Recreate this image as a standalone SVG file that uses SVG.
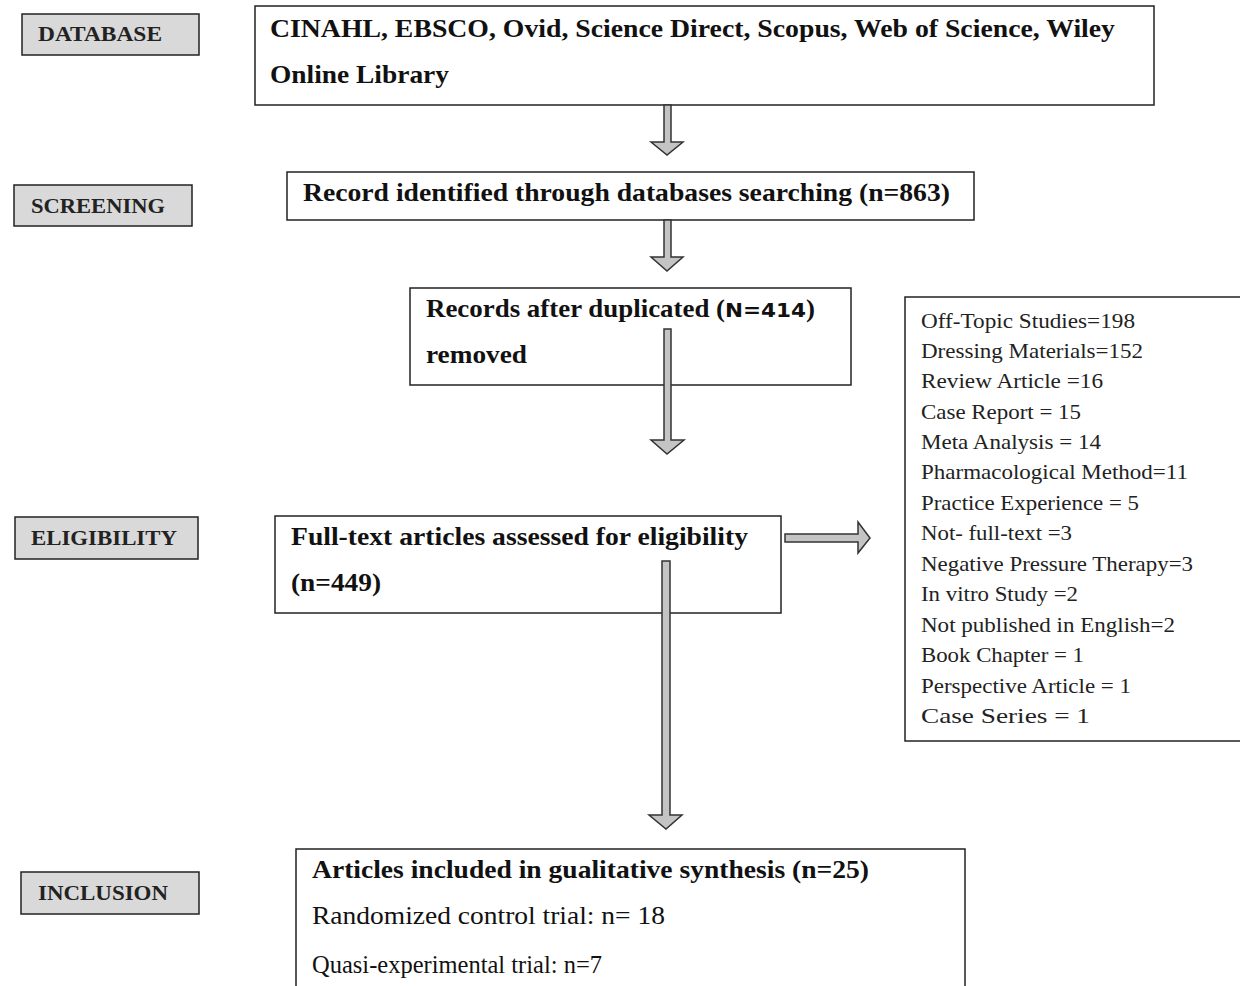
<svg xmlns="http://www.w3.org/2000/svg" width="1240" height="986" viewBox="0 0 1240 986">
<style>
.lab{fill:#d9d9d9;stroke:#222;stroke-width:1.5}
.box{fill:#fff;stroke:#222;stroke-width:1.5}
.lt{font-family:"Liberation Serif","Times New Roman",serif;font-weight:bold;font-size:20px;fill:#222}
.bt{font-family:"Liberation Serif","Times New Roman",serif;font-weight:bold;font-size:25px;fill:#111}
.rt{font-family:"Liberation Serif","Times New Roman",serif;font-size:25px;fill:#111}
.st{font-family:"Liberation Serif","Times New Roman",serif;font-size:21px;fill:#222}
.arr{fill:#c4c4c4;stroke:#333;stroke-width:1.5;stroke-linejoin:miter}
</style>
<rect width="1240" height="986" fill="#fff"/>

<g id="lab-database"><rect class="lab" x="22" y="14" width="177" height="41"/><text class="lt" x="38" y="41" textLength="124" lengthAdjust="spacingAndGlyphs">DATABASE</text></g>
<g id="lab-screening"><rect class="lab" x="14" y="185" width="178" height="41"/><text class="lt" x="31" y="213" textLength="134" lengthAdjust="spacingAndGlyphs">SCREENING</text></g>
<g id="lab-eligibility"><rect class="lab" x="15" y="517" width="183" height="42"/><text class="lt" x="31" y="545" textLength="146" lengthAdjust="spacingAndGlyphs">ELIGIBILITY</text></g>
<g id="lab-inclusion"><rect class="lab" x="21" y="872" width="178" height="42"/><text class="lt" x="38" y="900" textLength="130" lengthAdjust="spacingAndGlyphs">INCLUSION</text></g>

<g id="node-databases"><rect class="box" x="255" y="6" width="899" height="99"/>
<text class="bt" x="270" y="37" textLength="845" lengthAdjust="spacingAndGlyphs">CINAHL, EBSCO, Ovid, Science Direct, Scopus, Web of Science, Wiley</text>
<text class="bt" x="270" y="83" textLength="179" lengthAdjust="spacingAndGlyphs">Online Library</text></g>

<g id="node-identified"><rect class="box" x="287" y="172" width="687" height="48"/>
<text class="bt" x="303" y="201" textLength="647" lengthAdjust="spacingAndGlyphs">Record identified through databases searching (n=863)</text></g>

<g id="node-duplicates"><rect class="box" x="410" y="288" width="441" height="97"/>
<text class="bt" x="426" y="317" textLength="389" lengthAdjust="spacingAndGlyphs">Records after duplicated (<tspan font-family="'DejaVu Sans',sans-serif" font-size="20">N=414</tspan>)</text>
<text class="bt" x="426" y="363" textLength="101" lengthAdjust="spacingAndGlyphs">removed</text></g>

<g id="node-fulltext"><rect class="box" x="275" y="516" width="506" height="97"/>
<text class="bt" x="291" y="545" textLength="457" lengthAdjust="spacingAndGlyphs">Full-text articles assessed for eligibility</text>
<text class="bt" x="291" y="591" textLength="90" lengthAdjust="spacingAndGlyphs">(n=449)</text></g>

<g id="node-excluded"><rect class="box" x="905" y="297" width="345" height="444"/>
<text class="st" x="921" y="328" textLength="214" lengthAdjust="spacingAndGlyphs">Off-Topic Studies=198</text>
<text class="st" x="921" y="358" textLength="222" lengthAdjust="spacingAndGlyphs">Dressing Materials=152</text>
<text class="st" x="921" y="388" textLength="182" lengthAdjust="spacingAndGlyphs">Review Article =16</text>
<text class="st" x="921" y="419" textLength="160" lengthAdjust="spacingAndGlyphs">Case Report = 15</text>
<text class="st" x="921" y="449" textLength="180" lengthAdjust="spacingAndGlyphs">Meta Analysis = 14</text>
<text class="st" x="921" y="479" textLength="267" lengthAdjust="spacingAndGlyphs">Pharmacological Method=11</text>
<text class="st" x="921" y="510" textLength="218" lengthAdjust="spacingAndGlyphs">Practice Experience = 5</text>
<text class="st" x="921" y="540" textLength="151" lengthAdjust="spacingAndGlyphs">Not- full-text =3</text>
<text class="st" x="921" y="571" textLength="272" lengthAdjust="spacingAndGlyphs">Negative Pressure Therapy=3</text>
<text class="st" x="921" y="601" textLength="157" lengthAdjust="spacingAndGlyphs">In vitro Study =2</text>
<text class="st" x="921" y="632" textLength="254" lengthAdjust="spacingAndGlyphs">Not published in English=2</text>
<text class="st" x="921" y="662" textLength="163" lengthAdjust="spacingAndGlyphs">Book Chapter = 1</text>
<text class="st" x="921" y="693" textLength="210" lengthAdjust="spacingAndGlyphs">Perspective Article = 1</text>
<text class="st" x="921" y="723" textLength="169" lengthAdjust="spacingAndGlyphs">Case Series = 1</text></g>

<g id="node-included"><rect class="box" x="296" y="849" width="669" height="150"/>
<text class="bt" x="312" y="878" textLength="557" lengthAdjust="spacingAndGlyphs">Articles included in gualitative synthesis (n=25)</text>
<text class="rt" x="312" y="924" textLength="353" lengthAdjust="spacingAndGlyphs">Randomized control trial: n= 18</text>
<text class="rt" x="312" y="973" textLength="290" lengthAdjust="spacingAndGlyphs">Quasi-experimental trial: n=7</text></g>

<g id="connectors">
<polygon class="arr" points="664,105 671,105 671,142 683,142 667,155 651,142 664,142"/>
<polygon class="arr" points="664,220 671,220 671,257 683,257 667,271 651,257 664,257"/>
<polygon class="arr" points="664,329 671,329 671,440 684,440 667,454 651,440 664,440"/>
<polygon class="arr" points="662,561 670,561 670,815 682,815 666,829 649,815 662,815"/>
<polygon class="arr" points="785,534 858,534 858,522 870,538 858,553 858,542 785,542"/>
</g>
</svg>
